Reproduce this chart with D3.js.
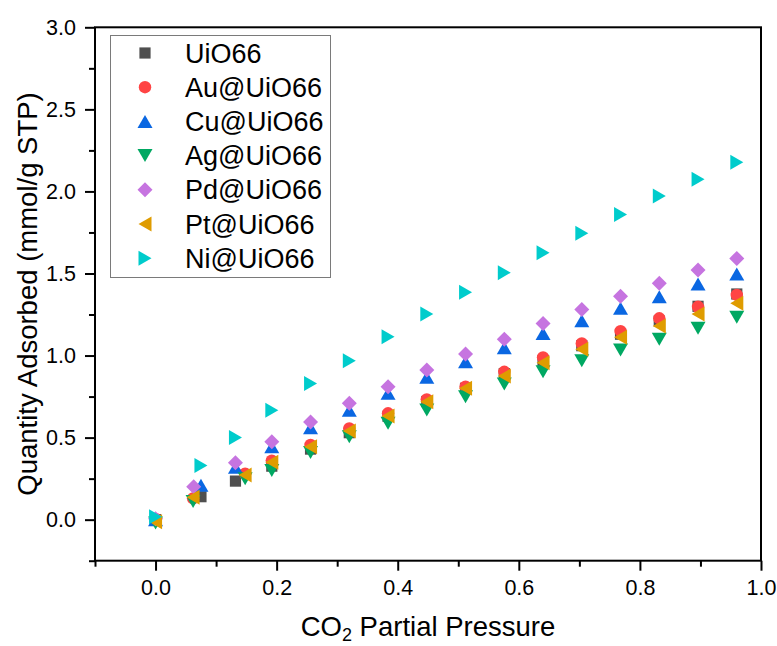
<!DOCTYPE html>
<html>
<head>
<meta charset="utf-8">
<script src="https://cdn.jsdelivr.net/npm/d3@7"></script>
<style>
  body { margin: 0; background: #fff; }
  svg { display: block; font-family: "Liberation Sans", Arial, sans-serif; }
</style>
</head>
<body>
<svg id="chart" width="777" height="646"></svg>
<script>

// CO2 partial pressure of each measured point (three slightly different runs)
const pressureBare = [0, 0.075, 0.132, 0.192, 0.256, 0.32, 0.384, 0.448, 0.512, 0.576, 0.64, 0.704, 0.768, 0.832, 0.896, 0.96];
const pressurePd   = [0, 0.063, 0.132, 0.192, 0.256, 0.32, 0.384, 0.448, 0.512, 0.576, 0.64, 0.704, 0.768, 0.832, 0.896, 0.96];
const pressureLow  = [0, 0.062, 0.148, 0.192, 0.256, 0.32, 0.384, 0.448, 0.512, 0.576, 0.64, 0.704, 0.768, 0.832, 0.896, 0.96];

// Quantity adsorbed (mmol/g STP)
const uio66   = [0.000, 0.140, 0.235, 0.326, 0.430, 0.530, 0.630, 0.720, 0.800, 0.890, 0.970, 1.060, 1.130, 1.210, 1.300, 1.375];
const auUio66 = [0.005, 0.130, 0.280, 0.360, 0.455, 0.556, 0.648, 0.733, 0.810, 0.901, 0.989, 1.074, 1.149, 1.227, 1.297, 1.369];
const cuUio66 = [0.000, 0.210, 0.320, 0.445, 0.560, 0.667, 0.770, 0.867, 0.962, 1.048, 1.135, 1.212, 1.288, 1.358, 1.436, 1.497];
const agUio66 = [-0.020, 0.110, 0.250, 0.300, 0.410, 0.505, 0.587, 0.668, 0.749, 0.826, 0.901, 0.968, 1.034, 1.099, 1.166, 1.233];
const pdUio66 = [0.005, 0.200, 0.347, 0.475, 0.595, 0.709, 0.810, 0.912, 1.009, 1.100, 1.196, 1.281, 1.362, 1.440, 1.521, 1.592];
const ptUio66 = [-0.013, 0.136, 0.272, 0.350, 0.444, 0.540, 0.631, 0.719, 0.800, 0.875, 0.956, 1.038, 1.111, 1.180, 1.253, 1.318];
const niUio66 = [0.018, 0.330, 0.500, 0.667, 0.830, 0.968, 1.115, 1.253, 1.385, 1.505, 1.626, 1.745, 1.860, 1.972, 2.074, 2.177];

const seriesNames = ["UiO66", "Au@UiO66", "Cu@UiO66", "Ag@UiO66", "Pd@UiO66", "Pt@UiO66", "Ni@UiO66"];
const xTicks = [0, 0.2, 0.4, 0.6, 0.8, 1.0];
const yTicks = [0, 0.5, 1.0, 1.5, 2.0, 2.5, 3.0];

// Symbols, each drawn centred on its bounding box (like Origin does)
const sym = {
    square:   { draw(c) { const h = 5.6; c.rect(-h, -h, 2*h, 2*h); } },
    circle:   { draw(c) { c.moveTo(6.2, 0); c.arc(0, 0, 6.2, 0, 2*Math.PI); } },
    up:       { draw(c) { c.moveTo(0, -6.5); c.lineTo(7.5, 6.5); c.lineTo(-7.5, 6.5); c.closePath(); } },
    down:     { draw(c) { c.moveTo(0, 6.5); c.lineTo(7.5, -6.5); c.lineTo(-7.5, -6.5); c.closePath(); } },
    diamond:  { draw(c) { c.moveTo(0, -7.5); c.lineTo(7.5, 0); c.lineTo(0, 7.5); c.lineTo(-7.5, 0); c.closePath(); } },
    left:     { draw(c) { c.moveTo(-6.5, 0); c.lineTo(6.5, -7.5); c.lineTo(6.5, 7.5); c.closePath(); } },
    right:    { draw(c) { c.moveTo(6.5, 0); c.lineTo(-6.5, -7.5); c.lineTo(-6.5, 7.5); c.closePath(); } }
};

const series = [
    { name: seriesNames[0], x: pressureBare, y: uio66,   colour: "#4f4f4f", shape: sym.square },
    { name: seriesNames[1], x: pressureLow,  y: auUio66, colour: "#ff4444", shape: sym.circle },
    { name: seriesNames[2], x: pressureBare, y: cuUio66, colour: "#0a67e2", shape: sym.up },
    { name: seriesNames[3], x: pressureLow,  y: agUio66, colour: "#00a862", shape: sym.down },
    { name: seriesNames[4], x: pressurePd,   y: pdUio66, colour: "#c674e0", shape: sym.diamond },
    { name: seriesNames[5], x: pressureLow,  y: ptUio66, colour: "#df9c00", shape: sym.left },
    { name: seriesNames[6], x: pressureBare, y: niUio66, colour: "#00cccc", shape: sym.right }
];

const svg = d3.select("#chart");
const plot = { left: 95, right: 761, top: 27.3, bottom: 560.7 };

const x = d3.scaleLinear().domain([-0.1, 1.0]).range([plot.left, plot.right]);
const y = d3.scaleLinear().domain([-0.25, 3.0]).range([plot.bottom, plot.top]);

// Minor ticks
svg.append("g")
    .attr("transform", `translate(0, ${plot.bottom})`)
    .call(d3.axisBottom(x).tickValues(d3.range(-0.1, 1.0, 0.2)).tickSize(6).tickFormat(""))
    .call(g => g.select(".domain").remove())
    .selectAll("line").attr("stroke-width", 2);
svg.append("g")
    .attr("transform", `translate(${plot.left}, 0)`)
    .call(d3.axisLeft(y).tickValues([-0.25, 0.25, 0.75, 1.25, 1.75, 2.25, 2.75]).tickSize(6).tickFormat(""))
    .call(g => g.select(".domain").remove())
    .selectAll("line").attr("stroke-width", 2);

// Major ticks with labels
const xAxis = svg.append("g")
    .attr("transform", `translate(0, ${plot.bottom})`)
    .call(d3.axisBottom(x).tickValues(xTicks).tickSize(10).tickPadding(9).tickFormat(d3.format(".1f")))
    .call(g => g.select(".domain").remove());
const yAxis = svg.append("g")
    .attr("transform", `translate(${plot.left}, 0)`)
    .call(d3.axisLeft(y).tickValues(yTicks).tickSize(10).tickPadding(9).tickFormat(d3.format(".1f")))
    .call(g => g.select(".domain").remove());
for (const ax of [xAxis, yAxis]) {
    ax.selectAll("line").attr("stroke-width", 2);
    ax.selectAll("text").attr("font-size", 21.5).attr("fill", "#000")
        .attr("font-family", "Liberation Sans, Arial, sans-serif");
}

// Frame
svg.append("rect")
    .attr("x", plot.left).attr("y", plot.top)
    .attr("width", plot.right - plot.left).attr("height", plot.bottom - plot.top)
    .attr("fill", "none").attr("stroke", "#000").attr("stroke-width", 2);

// Points
const symbolGen = d3.symbol();
for (const s of series) {
    svg.append("g").selectAll("path")
        .data(s.y.map((v, i) => [s.x[i], v]))
        .join("path")
        .attr("transform", d => `translate(${x(d[0])}, ${y(d[1])})`)
        .attr("d", symbolGen.type(s.shape)())
        .attr("fill", s.colour);
}

// Axis titles
const xTitle = svg.append("text")
    .attr("x", (plot.left + plot.right) / 2).attr("y", 636)
    .attr("text-anchor", "middle").attr("font-size", 27.5);
xTitle.append("tspan").text("CO");
xTitle.append("tspan").attr("font-size", 18).attr("dy", 5).text("2");
xTitle.append("tspan").attr("dy", -5).text(" Partial Pressure");

svg.append("text")
    .attr("transform", `translate(37, ${(plot.top + plot.bottom) / 2}) rotate(-90)`)
    .attr("text-anchor", "middle").attr("font-size", 27.5)
    .text("Quantity Adsorbed (mmol/g STP)");

// Legend
const legend = svg.append("g");
legend.append("rect")
    .attr("x", 110.5).attr("y", 35.5).attr("width", 220).attr("height", 242)
    .attr("fill", "#fff").attr("stroke", "#7a7a7a").attr("stroke-width", 1);
series.forEach((s, i) => {
    const cy = 53 + i * 34.2;
    legend.append("path")
        .attr("transform", `translate(145, ${cy})`)
        .attr("d", d3.symbol().type(s.shape)())
        .attr("fill", s.colour);
    legend.append("text")
        .attr("x", 185).attr("y", cy + 9.5)
        .attr("font-size", 27)
        .text(s.name);
});

</script>
</body>
</html>
